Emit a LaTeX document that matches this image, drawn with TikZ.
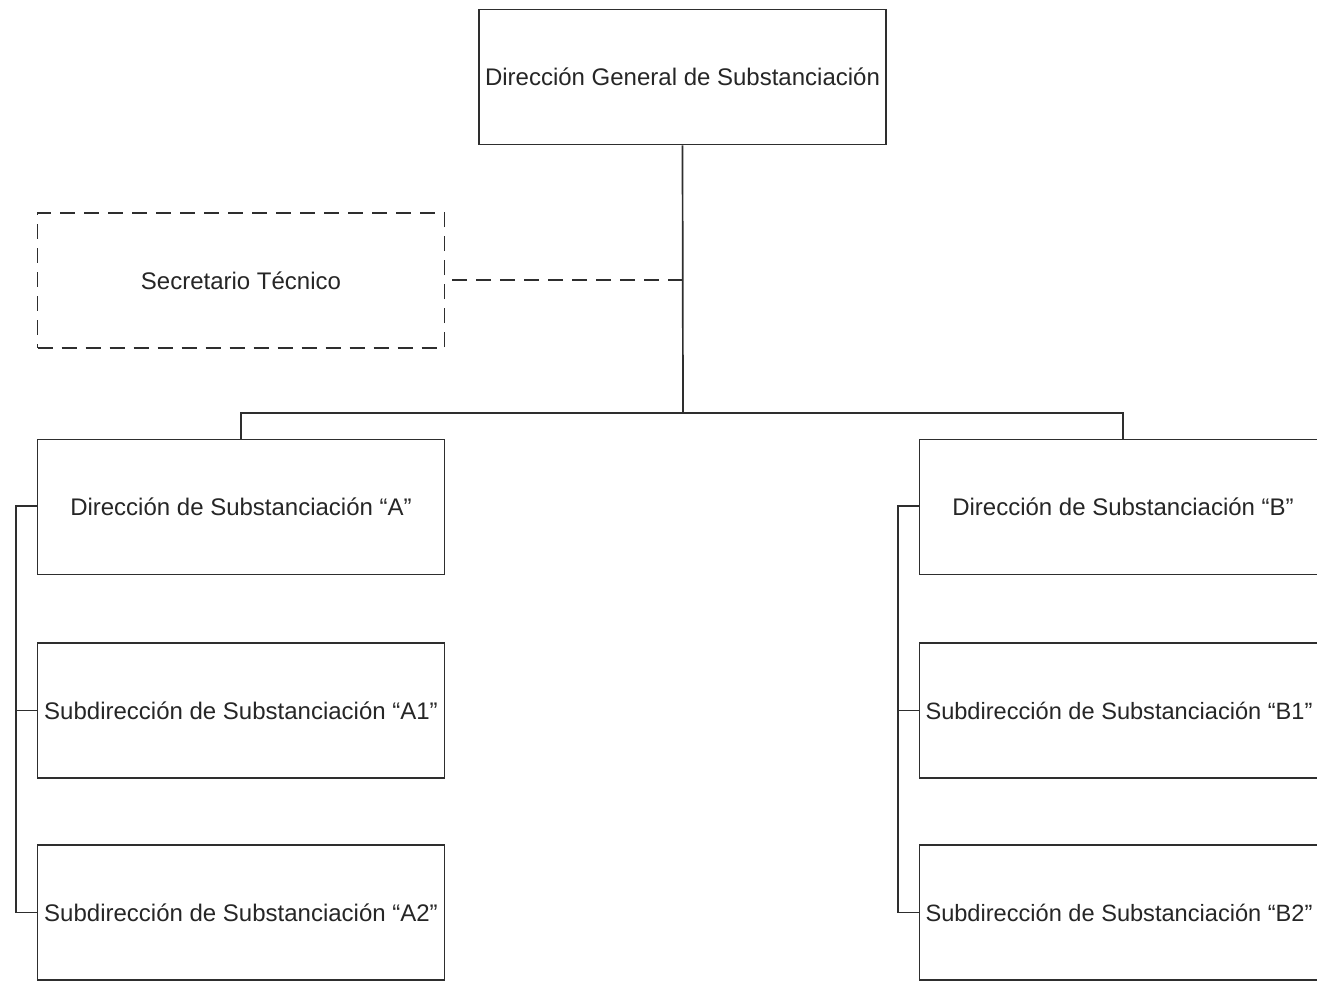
\documentclass[tikz,border=0pt]{standalone}
\usepackage{fontspec}
\setmainfont{Liberation Sans}
\begin{document}
\begin{tikzpicture}[x=1pt,y=-1pt,
  line/.style={line width=1.7pt,draw=black!82},
  unit/.style={line, fill=white, minimum width=407pt, minimum height=135pt,
    inner sep=0pt, text=black!85, font=\fontsize{24}{29}\selectfont},
  tightunit/.style={unit, font=\fontsize{23.6}{29}\selectfont},
  dashedunit/.style={unit, dash pattern=on 15pt off 9pt},
  link/.style={line},
  dashedlink/.style={line, dash pattern=on 15pt off 9pt}]
\useasboundingbox (0,0) rectangle (1317,980);
\clip (0,0) rectangle (1317,980);

% boxes
\node[unit] (dg) at (682.5,77) {Dirección General de Substanciación};
\node[dashedunit] (st) at (241,280.5) {Secretario Técnico};
\node[unit] (da) at (241,507) {Dirección de Substanciación “A”};
\node[unit] (sa1) at (241,710.5) {Subdirección de Substanciación “A1”};
\node[unit] (sa2) at (241,912.5) {Subdirección de Substanciación “A2”};
\node[unit] (db) at (1123,507) {Dirección de Substanciación “B”};
\node[tightunit] (sb1) at (1123,710.5) {\hspace*{-8pt}Subdirección de Substanciación “B1”};
\node[tightunit] (sb2) at (1123,912.5) {\hspace*{-8pt}Subdirección de Substanciación “B2”};

% branch points
\coordinate (bus) at (683,413);
\coordinate (stj) at (683,280);
\coordinate (la) at (16,506);
\coordinate (lb) at (898,506);

% main trunk and bus
\draw[link] (dg.south) -- (bus);
\draw[link] (da.north) |- (bus) -| (db.north);
\draw[dashedlink] (stj) -- (st.east |- stj);

% left branch
\draw[link] (da.west |- la) -- (la) |- (sa2.west);
\draw[link] (la |- sa1.west) -- (sa1.west);

% right branch
\draw[link] (db.west |- lb) -- (lb) |- (sb2.west);
\draw[link] (lb |- sb1.west) -- (sb1.west);
\end{tikzpicture}
\end{document}
